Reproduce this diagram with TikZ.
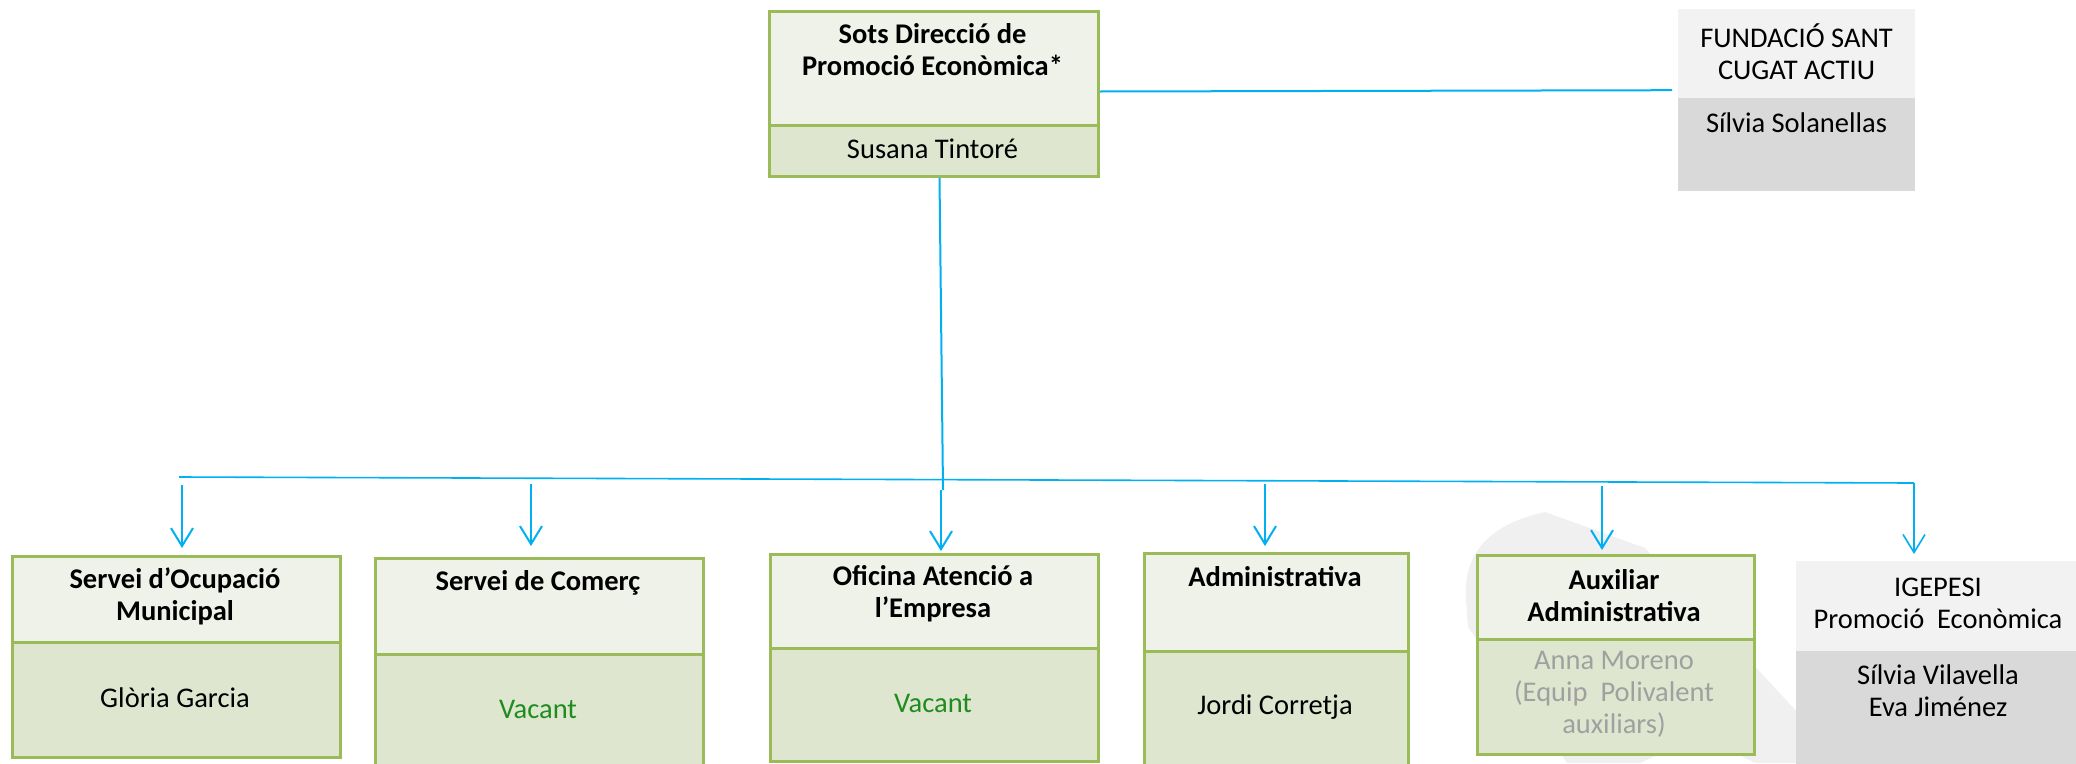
\documentclass[tikz,border=0pt]{standalone}
\usepackage{fontspec}
\setmainfont{Carlito}
\usetikzlibrary{arrows.meta,calc}
\definecolor{grn}{HTML}{9BBB59}
\definecolor{topf}{HTML}{EFF2E8}
\definecolor{botf}{HTML}{DEE6D0}
\definecolor{blu}{HTML}{00B0F0}
\definecolor{vac}{HTML}{1E8C1E}
\definecolor{gtx}{HTML}{A0A0A0}
\definecolor{gtop}{HTML}{F2F2F2}
\definecolor{gbot}{HTML}{D9D9D9}
\definecolor{wm}{HTML}{F0F0F0}
\begin{document}
\begin{tikzpicture}[x=1pt,y=-1pt,
 sec/.style={draw=grn, line width=3pt, inner sep=0pt, anchor=north west},
 hsec/.style={sec, fill=topf},
 bsec/.style={sec, fill=botf},
 gsec/.style={inner sep=0pt, anchor=north west},
 txt/.style={font=\fontsize{28.5}{32}\selectfont, align=center, inner sep=0pt},
 btxt/.style={txt, font=\fontsize{28.5}{32}\selectfont\bfseries},
 conn/.style={draw=blu, line width=2pt},
 arr/.style={conn, -{Straight Barb[length=18pt,width=22pt]}},
]
\useasboundingbox (0,0) rectangle (2076,763);
% faint watermark
\fill[wm] (1466,600) .. controls (1462,545) and (1500,522) .. (1545,512) -- (1645,548) -- (1800,715) -- (1800,763) -- (1755,763) -- (1700,735) -- (1640,763) -- (1567,763) -- (1468,627) -- cycle;

% top box
\node[hsec, minimum width=329pt, minimum height=114pt] (toph) at (768,10) {};
\node[bsec, minimum width=329pt, minimum height=51pt] (topn) at (768,124) {};
% fundacio
\node[gsec, fill=gtop, minimum width=237pt, minimum height=89pt] (fh) at (1678,9) {};
\node[gsec, fill=gbot, minimum width=237pt, minimum height=93pt] (fn) at (1678,98) {};
% bottom boxes
\node[hsec, minimum width=328pt, minimum height=86pt] (b1h) at (11,555) {};
\node[bsec, minimum width=328pt, minimum height=115pt] (b1n) at (11,641) {};
\node[hsec, minimum width=328pt, minimum height=96pt] (b2h) at (374,557) {};
\node[bsec, minimum width=328pt, minimum height=115pt] (b2n) at (374,653) {};
\node[hsec, minimum width=328pt, minimum height=94pt] (b3h) at (769,553) {};
\node[bsec, minimum width=328pt, minimum height=113pt] (b3n) at (769,647) {};
\node[hsec, minimum width=264pt, minimum height=98pt] (b4h) at (1143,552) {};
\node[bsec, minimum width=264pt, minimum height=118pt] (b4n) at (1143,650) {};
\node[hsec, minimum width=277pt, minimum height=84pt] (b5h) at (1476,554) {};
\node[bsec, minimum width=277pt, minimum height=115pt] (b5n) at (1476,638) {};
\node[gsec, fill=gtop, minimum width=290pt, minimum height=90pt] (b6h) at (1796,561) {};
\node[gsec, fill=gbot, minimum width=290pt, minimum height=115pt] (b6n) at (1796,651) {};

% connectors
\coordinate (hl) at (179,477);
\coordinate (hr) at (1914,483);
\coordinate (j1) at (943,490);
\coordinate (j2) at (941,490);
\coordinate (a1) at (182,485);
\coordinate (a2) at (531,484);
\coordinate (a4) at (1265,484);
\coordinate (a5) at (1602,486);
\draw[conn] ($(toph.east)+(0,23)$) -- ($(fh.west)+(-6,36.5)$);
\draw[conn] ($(topn.south)+(5.5,0)$) -- (j1);
\draw[arr] (j2) -- ($(b3h.north -| j2)+(0,-2)$);
\draw[conn, line width=1.6pt] (hl) -- (hr);
\draw[arr, line width=1.6pt] (hr) -- ($(b6h.north -| hr)+(0,-7)$);
\draw[arr] (a1) -- ($(b1h.north -| a1)+(0,-7)$);
\draw[arr] (a2) -- ($(b2h.north -| a2)+(0,-11)$);
\draw[arr] (a4) -- ($(b4h.north -| a4)+(0,-6)$);
\draw[arr] (a5) -- ($(b5h.north -| a5)+(0,-4)$);

% texts
\node[btxt] (t0h) at (932.5,50) {Sots Direcció de\\Promoció Econòmica*};
\node[txt] (t0n) at (932.5,149) {Susana Tintoré};
\node[txt] (tfh) at (1796.5,52) {FUNDACIÓ SANT\\CUGAT ACTIU};
\node[txt] (tfn) at (1796.5,123) {Sílvia Solanellas};
\node[btxt] (t1h) at (175,596) {Servei d’Ocupació\\Municipal};
\node[txt] (t1n) at (175,698) {Glòria Garcia};
\node[btxt] (t2h) at (538,583) {Servei de Comerç};
\node[txt, text=vac] (t2n) at (538,709) {Vacant};
\node[btxt] (t3h) at (933,594) {Oficina Atenció a\\l’Empresa};
\node[txt, text=vac] (t3n) at (933,703) {Vacant};
\node[btxt] (t4h) at (1275,577) {Administrativa};
\node[txt] (t4n) at (1275,707) {Jordi Corretja};
\node[btxt] (t5h) at (1614,596) {Auxiliar\\Administrativa};
\node[txt, text=gtx] (t5n) at (1614,694) {Anna Moreno\\(Equip\ \ Polivalent\\auxiliars)};
\node[txt] (t6h) at (1938,603) {IGEPESI\\Promoció\ \ Econòmica};
\node[txt] (t6n) at (1938,691) {Sílvia Vilavella\\Eva Jiménez};
\end{tikzpicture}
\end{document}
